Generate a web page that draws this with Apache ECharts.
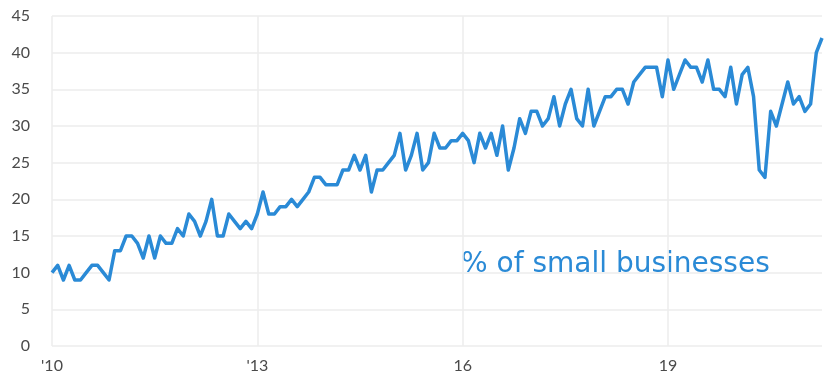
<!DOCTYPE html>
<html>
<head>
<meta charset="utf-8">
<script src="https://cdn.jsdelivr.net/npm/echarts@6/dist/echarts.min.js"></script>
<style>
  html, body { margin: 0; padding: 0; background: #ffffff; }
  #chart { width: 829px; height: 378px; }
</style>
</head>
<body>
<div id="chart"></div>
<script>
// Monthly share of small businesses, Jan 2010 – Apr 2021
const startYear = 2010;
const shareValues = [
  10, 11, 9, 11, 9, 9, 10, 11, 11, 10,
  9, 13, 13, 15, 15, 14, 12, 15, 12, 15,
  14, 14, 16, 15, 18, 17, 15, 17, 20, 15,
  15, 18, 17, 16, 17, 16, 18, 21, 18, 18,
  19, 19, 20, 19, 20, 21, 23, 23, 22, 22,
  22, 24, 24, 26, 24, 26, 21, 24, 24, 25,
  26, 29, 24, 26, 29, 24, 25, 29, 27, 27,
  28, 28, 29, 28, 25, 29, 27, 29, 26, 30,
  24, 27, 31, 29, 32, 32, 30, 31, 34, 30,
  33, 35, 31, 30, 35, 30, 32, 34, 34, 35,
  35, 33, 36, 37, 38, 38, 38, 34, 39, 35,
  37, 39, 38, 38, 36, 39, 35, 35, 34, 38,
  33, 37, 38, 34, 24, 23, 32, 30, 33, 36,
  33, 34, 32, 33, 40, 42
];
// Year labels shown every third January
const yearTickLabels = { 2010: "'10", 2013: "'13", 2016: "16", 2019: "19" };
const seriesLabel = '% of small businesses';

const months = shareValues.map((_, i) => {
  const y = startYear + Math.floor(i / 12);
  const m = (i % 12) + 1;
  return y + '-' + String(m).padStart(2, '0');
});

const isTick = (idx) => {
  const y = startYear + Math.floor(idx / 12);
  return idx % 12 === 0 && yearTickLabels[y] !== undefined;
};

const chart = echarts.init(document.getElementById('chart'), null, { renderer: 'canvas' });

chart.setOption({
  animation: false,
  backgroundColor: '#ffffff',
  grid: { left: 52, right: 7, top: 16, bottom: 32 },
  xAxis: {
    type: 'category',
    data: months,
    boundaryGap: false,
    axisLine: { show: false },
    axisTick: { show: false },
    axisLabel: {
      interval: (idx) => isTick(idx),
      formatter: (val) => yearTickLabels[+val.slice(0, 4)] || '',
      color: '#4a4a4a',
      fontFamily: 'Lato, "DejaVu Sans", sans-serif',
      fontSize: 16,
      margin: 12
    },
    splitLine: {
      show: true,
      interval: (idx) => isTick(idx),
      lineStyle: { color: '#ececec', width: 1.5 }
    }
  },
  yAxis: {
    type: 'value',
    min: 0,
    max: 45,
    interval: 5,
    axisLine: { show: false },
    axisTick: { show: false },
    axisLabel: {
      color: '#4a4a4a',
      fontFamily: 'Lato, "DejaVu Sans", sans-serif',
      fontSize: 16,
      margin: 22
    },
    splitLine: { lineStyle: { color: '#ececec', width: 1.5 } }
  },
  graphic: [{
    type: 'text',
    left: 461,
    top: 251,
    style: {
      text: seriesLabel,
      fill: '#2a8ad6',
      font: '28px "DejaVu Sans", sans-serif'
    }
  }],
  series: [{
    name: seriesLabel,
    type: 'line',
    data: shareValues,
    showSymbol: false,
    lineStyle: { color: '#2a8ad6', width: 3.5, join: 'round' },
    itemStyle: { color: '#2a8ad6' }
  }]
});
</script>
</body>
</html>
